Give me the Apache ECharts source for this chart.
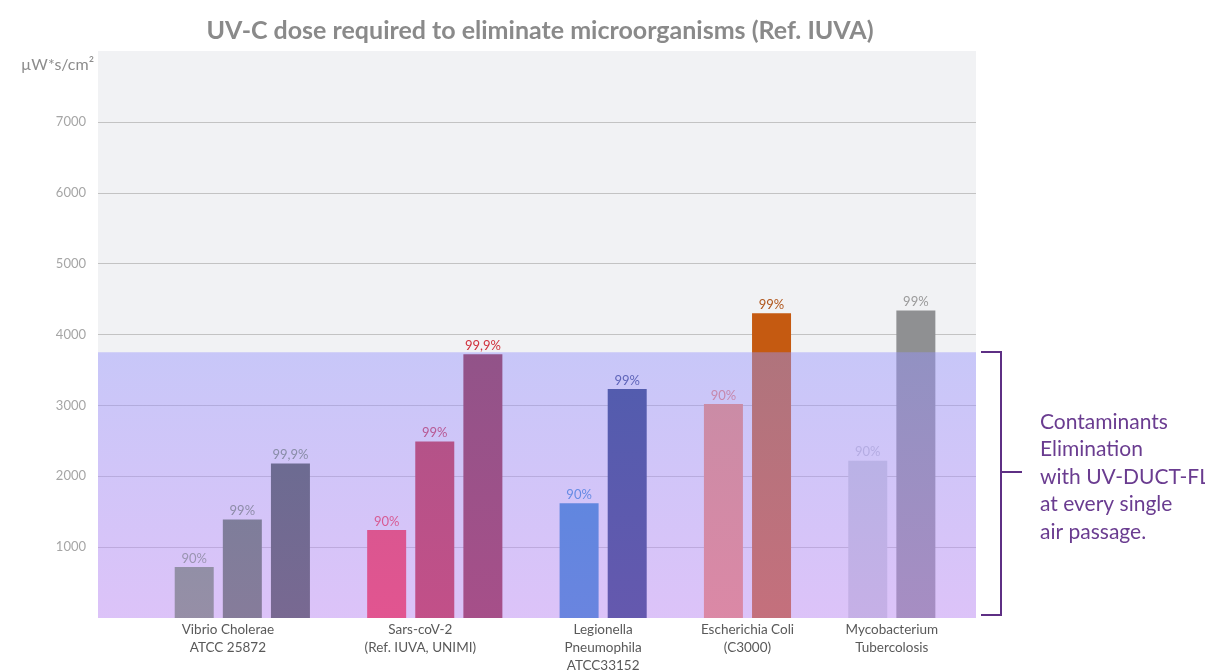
<!DOCTYPE html>
<html>
<head>
<meta charset="utf-8">
<script src="https://cdn.jsdelivr.net/npm/echarts@6/dist/echarts.min.js"></script>
<style>
html,body{margin:0;padding:0;background:#ffffff;}
#chart{width:1205px;height:670px;}
</style>
</head>
<body>
<div id="chart"></div>
<script>
// ---- data ----
const categories = [
  'Vibrio Cholerae\nATCC 25872',
  'Sars-coV-2\n(Ref. IUVA, UNIMI)',
  'Legionella\nPneumophila\nATCC33152',
  'Escherichia Coli\n(C3000)',
  'Mycobacterium\nTubercolosis'
];
const categoryPos = [0.7, 4.7, 8.5, 11.5, 14.5];
const barPos = [0, 1, 2, 4, 5, 6, 8, 9, 11, 12, 14, 15];
const barLevel = ['90%', '99%', '99,9%', '90%', '99%', '99,9%', '90%', '99%', '90%', '99%', '90%', '99%'];
const doses = [720, 1390, 2180, 1240, 2490, 3720, 1620, 3230, 3020, 4300, 2220, 4340];
const bandTop = 3750;
const yTicks = [1000, 2000, 3000, 4000, 5000, 6000, 7000];
const annotation = ['Contaminants', 'Elimination', 'with UV-DUCT-FL', 'at every single', 'air passage.'];

// ---- styles ----
const barColors = ['#70925e', '#537048', '#3a4d38', '#fb2835', '#c11f27', '#8e1e28',
                   '#1f80c6', '#162f6c', '#ef875d', '#c55a11', '#c8cfd3', '#8f9092'];
const labelColors = ['#7f9a70', '#6f8a60', '#6f8a60', '#f5303c', '#c8283a', '#d0303c',
                     '#2a88d0', '#2a3c80', '#e8806a', '#b0561c', '#c0c4cc', '#9a9a9a'];

const chart = echarts.init(document.getElementById('chart'));
const FONT = 'Lato';

const barData = barPos.map((p, i) => ({
  value: [p, doses[i]],
  itemStyle: { color: barColors[i] },
  label: { color: labelColors[i] }
}));

chart.setOption({
  animation: false,
  backgroundColor: '#ffffff',
  title: {
    text: 'UV-C dose required to eliminate microorganisms (Ref. IUVA)',
    left: 535, top: 13, textAlign: 'center',
    textStyle: { fontFamily: FONT, fontWeight: 'bold', fontSize: 25, color: '#8a8a8a' }
  },
  grid: {
    left: 98, right: 229, top: 51, bottom: 52,
    outerBoundsMode: 'none', containLabel: false,
    show: true, backgroundColor: '#f1f2f4', borderWidth: 0
  },
  xAxis: {
    type: 'value', min: -2, max: 16.25,
    axisLine: { show: false }, axisTick: { show: false }, splitLine: { show: false },
    axisLabel: {
      customValues: categoryPos,
      formatter: v => { const k = categoryPos.indexOf(v); return k >= 0 ? categories[k] : ''; },
      fontFamily: FONT, fontSize: 13.5, color: '#595959', lineHeight: 18, margin: 3,
      verticalAlign: 'top'
    }
  },
  yAxis: {
    type: 'value', min: 0, max: 8000, interval: 1000,
    axisLine: { show: false }, axisTick: { show: false },
    axisLabel: {
      formatter: v => (yTicks.indexOf(v) >= 0 ? String(v) : ''),
      fontFamily: FONT, fontSize: 13, color: '#a6a6a6', margin: 12
    },
    splitLine: {
      show: true,
      lineStyle: {
        width: 1,
        color: ['rgba(0,0,0,0)', '#c3c3c3', '#c3c3c3', '#c3c3c3', '#c3c3c3', '#c3c3c3', '#c3c3c3', '#c3c3c3', 'rgba(0,0,0,0)']
      }
    }
  },
  series: [
    {
      type: 'bar',
      barWidth: 39,
      data: barData,
      label: {
        show: true, position: 'top', distance: 2,
        fontFamily: FONT, fontSize: 13,
        formatter: p => barLevel[p.dataIndex]
      },
      z: 2
    },
    {
      type: 'line',
      data: [],
      z: 10,
      markArea: {
        silent: true,
        z: 10,
        itemStyle: {
          color: new echarts.graphic.LinearGradient(0, 0, 0, 1, [
            { offset: 0, color: 'rgba(150,147,253,0.455)' },
            { offset: 1, color: 'rgba(195,138,253,0.455)' }
          ])
        },
        data: [[{ yAxis: 0 }, { yAxis: bandTop }]]
      }
    }
  ],
  graphic: [
    {
      type: 'text', right: 1205 - 94, top: 57,
      style: { text: 'µW*s/cm²', fontFamily: FONT, fontSize: 16, fill: '#8c8c8c', textAlign: 'right' }
    },
    {
      type: 'polyline', z: 20,
      shape: { points: [[981, 352], [1001, 352], [1001, 615], [981, 615]] },
      style: { stroke: '#5e2f84', lineWidth: 2, fill: null }
    },
    {
      type: 'line', z: 20,
      shape: { x1: 1001, y1: 472, x2: 1022, y2: 472 },
      style: { stroke: '#5e2f84', lineWidth: 2 }
    },
    {
      type: 'text', left: 1040, top: 408, z: 20,
      style: {
        text: annotation.join('\n'), fontFamily: FONT, fontSize: 21, lineHeight: 27.5,
        fill: '#6a3c90'
      }
    }
  ]
});
</script>
</body>
</html>
